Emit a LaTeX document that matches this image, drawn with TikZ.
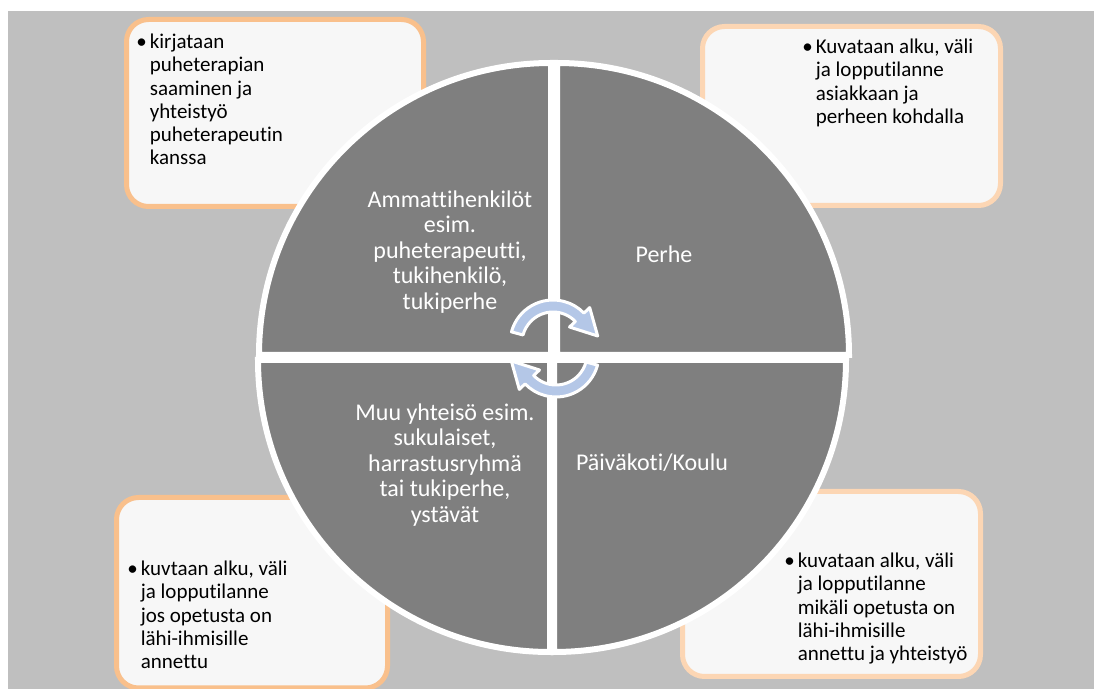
\documentclass[tikz,border=0pt]{standalone}
\usepackage{fontspec}
\setmainfont{Carlito}[Ligatures={NoCommon,NoContextual}]
\usetikzlibrary{calc}

\definecolor{bggray}{HTML}{BFBFBF}
\definecolor{quadgray}{HTML}{7F7F7F}
\definecolor{boxfill}{HTML}{F7F7F7}
\definecolor{orangeA}{HTML}{F9C08C}
\definecolor{orangeB}{HTML}{FCD6B4}
\definecolor{cycblue}{HTML}{B4C7E7}

\begin{document}
\begin{tikzpicture}[x=0.5pt,y=-0.5pt,
  quad/.style={fill=quadgray, draw=white, line width=3pt},
  note/.style={fill=boxfill, line width=2.5pt, rounded corners=11pt},
  notetext/.style={anchor=north west, inner sep=0pt, font=\fontsize{10.5}{11.65}\selectfont},
  quadtext/.style={align=center, text=white, inner sep=0pt, font=\fontsize{12}{12.8}\selectfont},
  cyc/.style={fill=cycblue, draw=white, line width=1.5pt, line join=round}]
  \useasboundingbox (0,0) rectangle (1094,689);
  \fill[bggray] (8,11) rectangle (1094,689);

  % notes
  \draw[note, draw=orangeA] (126.5,19.5) rectangle (423.5,206.5);
  \draw[note, draw=orangeB] (702.5,26.5) rectangle (1000.5,205.5);
  \draw[note, draw=orangeA] (116.5,497.5) rectangle (387.5,688);
  \draw[note, draw=orangeB] (682.5,491.5) rectangle (980.5,676.5);

  \node[notetext] (n-1) at (136,31.7) {\begin{tabular}{@{}l@{\hspace{1.5pt}}l@{}}
    \textbullet & kirjataan\\ & puheterapian\\ & saaminen ja\\ & yhteistyö\\
    & puheterapeutin\\ & kanssa\end{tabular}};
  \node[notetext] (n-2) at (802,36.7) {\begin{tabular}{@{}l@{\hspace{1.5pt}}l@{}}
    \textbullet & Kuvataan alku, väli\\ & ja lopputilanne\\ & asiakkaan ja\\
    & perheen kohdalla\end{tabular}};
  \node[notetext] (n-3) at (127,558.7) {\begin{tabular}{@{}l@{\hspace{1.5pt}}l@{}}
    \textbullet & kuvtaan alku, väli\\ & ja lopputilanne\\ & jos opetusta on\\
    & lähi-ihmisille\\ & annettu\end{tabular}};
  \node[notetext] (n-4) at (784,550.7) {\begin{tabular}{@{}l@{\hspace{1.5pt}}l@{}}
    \textbullet & kuvataan alku, väli\\ & ja lopputilanne\\ & mikäli opetusta on\\
    & lähi-ihmisille\\ & annettu ja yhteistyö\end{tabular}};

  % circle
  \filldraw[quad] (551,355) -- ++(180:292) arc[start angle=180, end angle=270, radius=292] -- cycle;
  \filldraw[quad] (557,355) -- ++(270:292) arc[start angle=270, end angle=360, radius=292] -- cycle;
  \filldraw[quad] (550,360) -- ++(90:292) arc[start angle=90, end angle=180, radius=292] -- cycle;
  \filldraw[quad] (554,360) -- ++(0:292) arc[start angle=0, end angle=90, radius=292] -- cycle;

  \node[quadtext] (q-1) at (450,252) {Ammattihenkilöt\\esim.\\puheterapeutti,\\tukihenkilö,\\tukiperhe};
  \node[quadtext] (q-2) at (664,254) {Perhe};
  \node[quadtext] (q-3) at (445,465) {Muu yhteisö esim.\\sukulaiset,\\harrastusryhmä\\tai tukiperhe,\\ystävät};
  \node[quadtext] (q-4) at (652,463) {Päiväkoti/Koulu};

  % cycle arrows
  \coordinate (c-1) at (553,343);
  \coordinate (c-2) at (556,354);
  \filldraw[cyc] ($(c-1)+(195:31)$) -- ($(c-1)+(195:43)$)
    arc[start angle=195, end angle=316, radius=43]
    -- ($(c-1)+(316:51)$) -- ($(c-1)+(316:37)+(46:26)$) -- ($(c-1)+(316:23)$)
    -- ($(c-1)+(316:31)$) arc[start angle=316, end angle=195, radius=31] -- cycle;
  \filldraw[cyc] ($(c-2)+(15:31)$) -- ($(c-2)+(15:43)$)
    arc[start angle=15, end angle=136, radius=43]
    -- ($(c-2)+(136:51)$) -- ($(c-2)+(136:37)+(226:26)$) -- ($(c-2)+(136:23)$)
    -- ($(c-2)+(136:31)$) arc[start angle=136, end angle=15, radius=31] -- cycle;
\end{tikzpicture}
\end{document}
